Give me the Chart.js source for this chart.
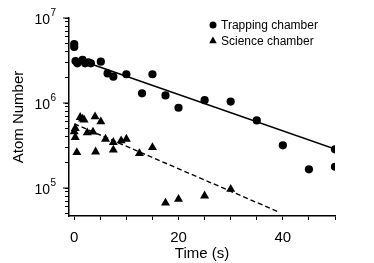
<!DOCTYPE html>
<html>
<head>
<meta charset="utf-8">
<script src="https://cdn.jsdelivr.net/npm/chart.js@4.4.1/dist/chart.umd.min.js"></script>
<style>
  html, body { margin: 0; padding: 0; background: #fff; }
  #wrap { width: 374px; height: 263px; }
</style>
</head>
<body>
<div id="wrap"><canvas id="chart" width="374" height="263"></canvas></div>
<script>
const FONT = "'Liberation Sans', Arial, Helvetica, sans-serif";

// trapping chamber (circles)
const trapTime = [0, 0, 0.25, 0.6, 1.6, 2.1, 2.7, 3.2, 5.1, 6.4, 7.5, 10, 13, 15, 17.5, 20, 25, 30, 35, 40, 45, 50, 50];
const trapAtoms = [4.94e6, 4.56e6, 3.12e6, 2.93e6, 3.21e6, 2.93e6, 3.01e6, 2.93e6, 3.06e6, 2.23e6, 2.04e6, 2.18e6,
  1.30e6, 2.18e6, 1.23e6, 8.8e5, 1.08e6, 1.04e6, 6.25e5, 3.18e5, 1.66e5, 1.78e5, 2.85e5];

// science chamber (triangles)
const sciTime = [0, 0.2, 0.2, 0.5, 1.15, 1.6, 1.9, 2.5, 3.6, 4, 4.1, 5.1, 6, 7.5, 7.5, 9, 10, 12.5, 15, 17.5, 20, 25, 30];
const sciAtoms = [4.59e5, 5.04e5, 3.95e5, 2.63e5, 6.79e5, 6.49e5, 6.31e5, 4.48e5, 4.56e5, 6.9e5, 2.67e5, 6.03e5,
  3.77e5, 3.45e5, 2.8e5, 3.6e5, 3.77e5, 2.56e5, 3.01e5, 6.7e4, 7.4e4, 8.1e4, 9.7e4];

// exponential fits (end points)
const trapFitTime = [2, 50];
const trapFitAtoms = [3.05e6, 2.88e5];
const sciFitTime = [0, 39];
const sciFitAtoms = [5.7e5, 5.3e4];

const seriesLabels = ["Trapping chamber", "Science chamber"];
const xTickValues = [0, 5, 10, 15, 20, 25, 30, 35, 40, 45, 50];
const xLabelled = [0, 20, 40];
const yDecades = [5, 6, 7];

const yTickValues = [];
for (let e = 4; e <= 6; e++) {
  for (let s = 1; s <= 9; s++) {
    const v = s * Math.pow(10, e);
    if (v >= 5e4) yTickValues.push(v);
  }
}
yTickValues.push(1e7);

const toPts = (xs, ys) => xs.map((x, i) => ({ x: x, y: ys[i] }));

const chartArea = { left: 69, right: 335, top: 18, bottom: 216 };

const extrasPlugin = {
  id: "extras",
  afterDraw(chart) {
    const ctx = chart.ctx;
    const y = chart.scales.y;
    ctx.save();
    // longer major ticks and 10^n labels
    ctx.strokeStyle = "#000";
    ctx.lineWidth = 1;
    ctx.fillStyle = "#000";
    yDecades.forEach(e => {
      const py = y.getPixelForValue(Math.pow(10, e));
      ctx.beginPath();
      ctx.moveTo(chartArea.left - 6, py);
      ctx.lineTo(chartArea.left, py);
      ctx.stroke();
      ctx.font = "14px " + FONT;
      ctx.textAlign = "right";
      ctx.textBaseline = "middle";
      ctx.fillText("10", 50, py + 2);
      ctx.font = "10px " + FONT;
      ctx.textAlign = "left";
      ctx.fillText(String(e), 50.5, py - 5);
    });
    // legend
    const ds = chart.data.datasets;
    const lx = 213;
    const rows = [25, 41];
    ctx.font = "12px " + FONT;
    ctx.textAlign = "left";
    ctx.textBaseline = "middle";
    for (let i = 0; i < 2; i++) {
      const ly = rows[i];
      ctx.beginPath();
      if (ds[i].pointStyle === "triangle") {
        const r = 4.4;
        ctx.moveTo(lx, ly - r);
        ctx.lineTo(lx + r * 0.866, ly + r * 0.5);
        ctx.lineTo(lx - r * 0.866, ly + r * 0.5);
        ctx.closePath();
      } else {
        ctx.arc(lx, ly, 3.5, 0, Math.PI * 2);
      }
      ctx.fill();
      ctx.fillText(ds[i].label, lx + 8, ly + 0.5);
    }
    ctx.restore();
  }
};

const ctx = document.getElementById("chart").getContext("2d");
new Chart(ctx, {
  type: "scatter",
  data: {
    datasets: [
      {
        label: seriesLabels[0],
        data: toPts(trapTime, trapAtoms),
        pointStyle: "circle",
        pointRadius: 4.1,
        backgroundColor: "#000",
        borderColor: "#000",
        borderWidth: 0
      },
      {
        label: seriesLabels[1],
        data: toPts(sciTime, sciAtoms),
        pointStyle: "triangle",
        pointRadius: 5.2,
        backgroundColor: "#000",
        borderColor: "#000",
        borderWidth: 0
      },
      {
        label: "fit1",
        type: "line",
        data: toPts(trapFitTime, trapFitAtoms),
        borderColor: "#000",
        borderWidth: 1.6,
        pointRadius: 0,
        fill: false
      },
      {
        label: "fit2",
        type: "line",
        data: toPts(sciFitTime, sciFitAtoms),
        borderColor: "#000",
        borderWidth: 1.4,
        borderDash: [5, 3],
        pointRadius: 0,
        fill: false
      }
    ]
  },
  options: {
    responsive: false,
    animation: false,
    layout: {
      padding: { top: chartArea.top, right: 374 - chartArea.right, left: 0, bottom: 0 }
    },
    plugins: {
      legend: { display: false },
      tooltip: { enabled: false }
    },
    scales: {
      x: {
        type: "linear",
        min: -1,
        max: 50,
        afterBuildTicks: s => { s.ticks = xTickValues.map(v => ({ value: v })); },
        afterFit: s => { s.height = 263 - chartArea.bottom; },
        grid: { drawOnChartArea: false, drawTicks: true, tickLength: 4, tickColor: "#000", tickWidth: 1 },
        border: { color: "#000", width: 1.5 },
        ticks: {
          autoSkip: false,
          maxRotation: 0,
          padding: 9,
          color: "#000",
          font: { family: FONT, size: 15 },
          callback: v => (xLabelled.includes(v) ? String(v) : "")
        },
        title: {
          display: true,
          text: "Time (s)",
          color: "#000",
          font: { family: FONT, size: 15 },
          padding: { top: 0, bottom: 0 }
        }
      },
      y: {
        type: "logarithmic",
        min: 4.69e4,
        max: 1e7,
        afterBuildTicks: s => { s.ticks = yTickValues.map(v => ({ value: v })); },
        afterFit: s => { s.width = chartArea.left; },
        grid: { drawOnChartArea: false, drawTicks: true, tickLength: 4, tickColor: "#000", tickWidth: 1 },
        border: { color: "#000", width: 1.5 },
        ticks: {
          autoSkip: false,
          callback: () => ""
        },
        title: {
          display: true,
          text: "Atom Number",
          color: "#000",
          font: { family: FONT, size: 15 },
          padding: { top: 10, bottom: 0 }
        }
      }
    }
  },
  plugins: [extrasPlugin]
});
</script>
</body>
</html>
